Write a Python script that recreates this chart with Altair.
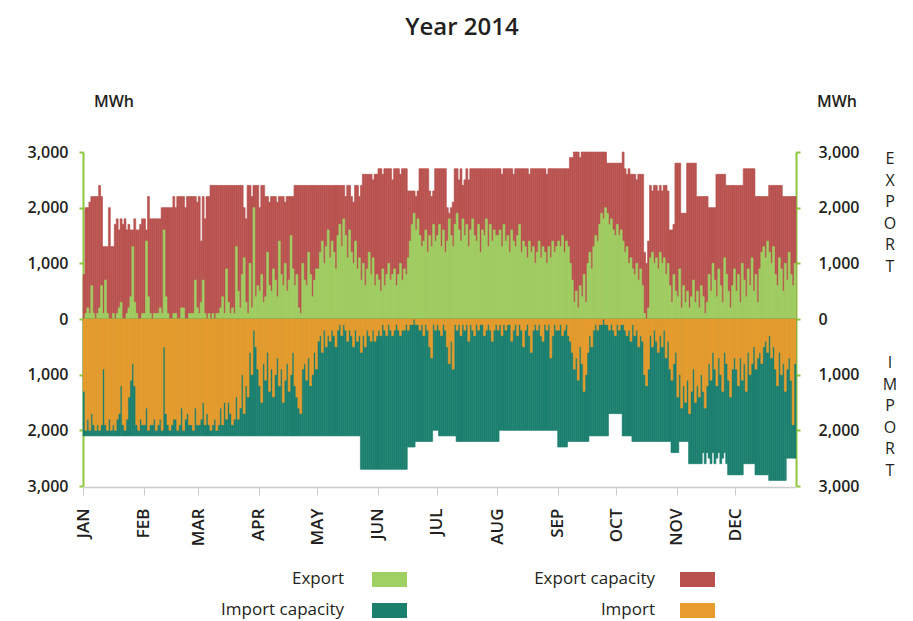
import altair as alt
import pandas as pd

# ---------------- data (values in hundreds of MWh, one per day of 2014) ----------------
months = ["JAN", "FEB", "MAR", "APR", "MAY", "JUN", "JUL", "AUG", "SEP", "OCT", "NOV", "DEC"]
month_days = [31, 28, 31, 30, 31, 30, 31, 31, 30, 31, 30, 31]

export_capacity = [
    8, 20, 20, 21, 22, 22, 22, 22, 24, 22, 13, 13, 13, 20, 13, 13, 17, 18, 16, 18, 17, 18, 16, 17, 16, 16, 18, 16, 16, 17, 18,
    18, 16, 22, 18, 18, 18, 18, 18, 18, 20, 20, 20, 20, 20, 20, 22, 20, 22, 22, 22, 22, 20, 22, 22, 22, 22, 22, 21,
    22, 14, 22, 18, 22, 22, 24, 24, 24, 24, 24, 24, 24, 24, 24, 24, 24, 24, 24, 24, 24, 24, 24, 20, 18, 24, 24, 22, 24, 24, 24,
    20, 24, 24, 22, 22, 21, 22, 22, 22, 21, 22, 22, 22, 21, 22, 22, 22, 22, 24, 24, 24, 24, 24, 24, 24, 24, 24, 24, 24, 24,
    24, 24, 24, 24, 24, 24, 24, 24, 24, 24, 24, 24, 24, 24, 22, 24, 24, 22, 21, 24, 24, 22, 24, 26, 26, 26, 26, 26, 25, 26, 26,
    27, 27, 26, 27, 27, 27, 27, 25, 27, 27, 27, 26, 27, 27, 27, 23, 23, 23, 23, 22, 23, 27, 27, 27, 27, 27, 23, 22, 23, 27,
    27, 27, 27, 27, 27, 20, 19, 20, 21, 27, 27, 25, 27, 24, 25, 27, 25, 27, 27, 27, 27, 27, 27, 27, 27, 27, 27, 27, 27, 27, 27,
    27, 27, 26, 27, 27, 27, 27, 27, 26, 27, 27, 27, 27, 27, 27, 27, 26, 27, 27, 27, 27, 27, 27, 27, 27, 26, 27, 27, 27, 27, 27,
    27, 27, 27, 27, 27, 27, 29, 29, 30, 30, 30, 29, 30, 30, 30, 30, 30, 30, 30, 30, 30, 30, 30, 30, 30, 28, 28, 28, 28, 28,
    28, 28, 28, 30, 27, 26, 27, 26, 26, 26, 25, 26, 26, 26, 12, 10, 14, 24, 23, 24, 24, 23, 24, 23, 24, 24, 23, 16, 16, 17, 28,
    28, 28, 19, 19, 19, 28, 28, 28, 28, 28, 22, 22, 22, 22, 22, 22, 20, 20, 20, 20, 26, 26, 26, 26, 26, 24, 24, 24, 24, 24,
    24, 24, 24, 24, 27, 27, 27, 27, 27, 27, 22, 22, 22, 22, 22, 22, 22, 24, 24, 24, 24, 24, 24, 24, 22, 22, 22, 22, 22, 22, 22,
]

export = [
    0, 1, 2, 1, 6, 1, 0, 1, 2, 6, 1, 7, 1, 0, 0, 1, 0, 1, 2, 3, 0, 0, 1, 2, 4, 13, 3, 1, 0, 0, 1,
    1, 14, 4, 1, 0, 1, 1, 1, 2, 1, 16, 4, 1, 0, 0, 1, 1, 0, 0, 2, 2, 0, 0, 1, 1, 1, 7, 2,
    1, 3, 7, 1, 0, 1, 0, 1, 0, 1, 1, 2, 4, 1, 9, 3, 1, 2, 1, 13, 5, 2, 8, 11, 3, 1, 10, 2, 20, 4, 6,
    5, 8, 3, 4, 12, 6, 5, 9, 7, 4, 14, 8, 6, 10, 5, 7, 15, 9, 6, 8, 2, 1, 10, 7, 6, 12, 8, 4, 7, 9,
    9, 12, 14, 10, 13, 16, 11, 14, 12, 9, 15, 17, 13, 18, 15, 11, 16, 12, 10, 14, 9, 11, 7, 10, 6, 9, 12, 8, 11, 6, 8,
    7, 5, 9, 6, 8, 10, 7, 8, 9, 6, 8, 10, 7, 9, 8, 11, 14, 17, 19, 16, 18, 15, 13, 14, 16, 12, 15, 13, 17, 14,
    15, 17, 13, 16, 12, 14, 18, 15, 13, 17, 19, 16, 14, 18, 15, 17, 13, 16, 18, 15, 14, 17, 12, 16, 15, 18, 13, 17, 14, 16, 15,
    15, 16, 13, 17, 14, 15, 12, 16, 14, 13, 15, 17, 12, 14, 13, 11, 14, 12, 13, 10, 12, 14, 11, 13, 12, 10, 13, 11, 14, 12, 13,
    14, 13, 15, 12, 14, 13, 10, 7, 3, 5, 2, 6, 4, 8, 3, 10, 12, 9, 13, 15, 14, 17, 19, 18, 20, 19, 17, 18, 16, 15,
    17, 15, 16, 14, 12, 13, 10, 11, 9, 8, 10, 7, 9, 6, 1, 0, 2, 11, 12, 10, 11, 9, 12, 10, 11, 8, 10, 6, 3, 8, 5,
    4, 9, 2, 6, 3, 5, 2, 4, 7, 3, 5, 2, 6, 4, 1, 3, 8, 5, 10, 7, 4, 9, 6, 3, 11, 8, 5, 2, 6, 9,
    5, 8, 3, 10, 7, 4, 9, 6, 11, 5, 8, 3, 9, 12, 13, 11, 14, 12, 10, 13, 8, 6, 11, 9, 5, 10, 7, 12, 8, 6, 10,
]

import_capacity = [
    21, 21, 21, 21, 21, 21, 21, 21, 21, 21, 21, 21, 21, 21, 21, 21, 21, 21, 21, 21, 21, 21, 21, 21, 21, 21, 21, 21, 21, 21, 21,
    21, 21, 21, 21, 21, 21, 21, 21, 21, 21, 21, 21, 21, 21, 21, 21, 21, 21, 21, 21, 21, 21, 21, 21, 21, 21, 21, 21,
    21, 21, 21, 21, 21, 21, 21, 21, 21, 21, 21, 21, 21, 21, 21, 21, 21, 21, 21, 21, 21, 21, 21, 21, 21, 21, 21, 21, 21, 21, 21,
    21, 21, 21, 21, 21, 21, 21, 21, 21, 21, 21, 21, 21, 21, 21, 21, 21, 21, 21, 21, 21, 21, 21, 21, 21, 21, 21, 21, 21, 21,
    21, 21, 21, 21, 21, 21, 21, 21, 21, 21, 21, 21, 21, 21, 21, 21, 21, 21, 21, 21, 21, 21, 27, 27, 27, 27, 27, 27, 27, 27, 27,
    27, 27, 27, 27, 27, 27, 27, 27, 27, 27, 27, 27, 27, 27, 27, 23, 23, 23, 23, 22, 22, 22, 22, 22, 22, 22, 22, 22, 20, 20,
    20, 21, 21, 21, 21, 21, 21, 21, 21, 21, 22, 22, 22, 22, 22, 22, 22, 22, 22, 22, 22, 22, 22, 22, 22, 22, 22, 22, 22, 22, 22,
    22, 20, 20, 20, 20, 20, 20, 20, 20, 20, 20, 20, 20, 20, 20, 20, 20, 20, 20, 20, 20, 20, 20, 20, 20, 20, 20, 20, 20, 20, 20,
    23, 23, 23, 23, 23, 22, 22, 22, 22, 22, 22, 22, 22, 22, 22, 22, 21, 21, 21, 21, 21, 21, 21, 21, 21, 21, 17, 17, 17, 17,
    17, 17, 17, 21, 21, 21, 21, 21, 22, 22, 22, 22, 22, 22, 22, 22, 22, 22, 22, 22, 22, 22, 22, 22, 22, 22, 22, 22, 24, 24, 24,
    24, 22, 22, 22, 22, 22, 26, 26, 26, 26, 26, 26, 26, 24, 26, 24, 25, 26, 24, 26, 25, 24, 26, 25, 24, 26, 28, 28, 28, 28,
    28, 28, 28, 28, 26, 26, 26, 26, 26, 26, 28, 28, 28, 28, 28, 28, 28, 29, 29, 29, 29, 29, 29, 29, 29, 29, 25, 25, 25, 25, 25,
]

imports = [
    13, 20, 18, 20, 17, 19, 20, 19, 20, 19, 9, 19, 20, 18, 20, 19, 20, 18, 17, 12, 19, 20, 18, 14, 11, 8, 12, 19, 20, 18, 19,
    19, 16, 20, 19, 19, 18, 20, 19, 18, 20, 5, 17, 19, 20, 19, 18, 18, 20, 19, 16, 20, 18, 17, 19, 19, 20, 16, 19,
    19, 18, 15, 19, 17, 19, 20, 19, 18, 20, 19, 16, 19, 15, 18, 15, 17, 19, 18, 14, 18, 16, 10, 17, 12, 14, 6, 10, 2, 5, 9,
    12, 15, 8, 11, 6, 13, 9, 14, 10, 7, 12, 9, 15, 11, 8, 13, 10, 6, 12, 14, 16, 17, 9, 8, 11, 7, 12, 10, 6, 9,
    4, 3, 6, 2, 5, 3, 4, 2, 3, 5, 2, 1, 3, 1, 2, 4, 2, 3, 5, 2, 4, 3, 6, 3, 5, 2, 3, 4, 2, 4, 3,
    2, 3, 1, 2, 3, 1, 2, 3, 2, 1, 2, 3, 2, 2, 1, 2, 1, 1, 0, 1, 1, 2, 1, 3, 1, 2, 5, 7, 1, 2,
    1, 2, 3, 1, 2, 5, 8, 4, 9, 1, 2, 1, 3, 1, 2, 1, 4, 1, 2, 3, 1, 2, 1, 1, 3, 2, 1, 2, 4, 2, 1,
    2, 1, 3, 1, 2, 1, 1, 4, 2, 1, 3, 1, 2, 5, 2, 1, 3, 6, 2, 1, 2, 1, 3, 4, 1, 2, 1, 7, 3, 1, 2,
    2, 1, 3, 2, 1, 3, 4, 6, 9, 7, 11, 5, 8, 13, 10, 6, 3, 5, 2, 1, 2, 1, 1, 0, 1, 1, 2, 1, 2, 3,
    1, 2, 1, 1, 2, 3, 2, 4, 1, 3, 2, 5, 3, 4, 10, 12, 9, 3, 5, 2, 4, 6, 3, 5, 2, 7, 4, 9, 11, 8, 6,
    14, 10, 16, 12, 15, 11, 17, 13, 9, 15, 12, 14, 10, 13, 16, 12, 8, 11, 6, 9, 12, 7, 10, 13, 6, 8, 11, 14, 9, 7,
    9, 12, 7, 11, 8, 13, 6, 10, 8, 5, 9, 7, 6, 8, 5, 4, 6, 3, 7, 5, 9, 12, 6, 10, 8, 13, 9, 7, 11, 19, 8,
]

y_ticks = [-3000, -2000, -1000, 0, 1000, 2000, 3000]

# ---------------- table ----------------
n_days = sum(month_days)
for s in (export_capacity, export, import_capacity, imports):
    assert len(s) == n_days, len(s)

month_starts = []
acc = 0
for d in month_days:
    month_starts.append(acc)
    acc += d

df = pd.DataFrame({
    "day": list(range(n_days)),
    "day_end": [d + 1 for d in range(n_days)],
    "zero": [0] * n_days,
    "exp_cap": [v * 100 for v in export_capacity],
    "exp": [v * 100 for v in export],
    "imp_cap": [-v * 100 for v in import_capacity],
    "imp": [-v * 100 for v in imports],
})

GREEN = "#a0cf63"
RED = "#b9524f"
TEAL = "#1b7f6e"
ORANGE = "#e79c2d"
AXIS_GREEN = "#8dc63f"
TXT = "#231f20"
FONT = "Open Sans"

W, H = 713, 334

label_expr = ""
for s, m in zip(month_starts, months):
    label_expr += f"datum.value == {s} ? '{m}' : "
label_expr += "''"

xs = alt.Scale(domain=[0, n_days], nice=False, zero=False)
ys = alt.Scale(domain=[-3000, 3000], nice=False)

x_axis = alt.Axis(
    values=month_starts, labelExpr=label_expr, title=None, grid=False,
    domainColor="#cccccc", domainWidth=1.5, tickColor="#cccccc", tickSize=8,
    labelAngle=-90, labelAlign="right", labelBaseline="middle", labelPadding=13,
    labelFont=FONT, labelFontSize=17, labelFontWeight=600, labelColor=TXT, offset=1,
)

def y_axis(orient, pad):
    return alt.Axis(
        orient=orient, values=y_ticks, labelExpr="format(abs(datum.value), ',')",
        title=None, grid=False, domainColor=AXIS_GREEN, domainWidth=2,
        tickColor=AXIS_GREEN, tickSize=4, tickWidth=2, labelPadding=pad,
        labelFont=FONT, labelFontSize=16, labelFontWeight=600, labelColor=TXT,
    )

base = alt.Chart(df)
X = alt.X("day:Q", scale=xs, axis=x_axis)

def bars(color):
    return base.mark_rect(color=color, stroke=color, strokeWidth=0.6)

red = bars(RED).encode(
    x=X, x2="day_end", y=alt.Y("exp_cap:Q", scale=ys, axis=y_axis("left", 11)), y2="zero")
green = bars(GREEN).encode(
    x=X, x2="day_end", y=alt.Y("exp:Q", scale=ys, axis=y_axis("right", 18)), y2="zero")
teal = bars(TEAL).encode(
    x=X, x2="day_end", y=alt.Y("imp_cap:Q", scale=ys, axis=None), y2="zero")
orange = bars(ORANGE).encode(
    x=X, x2="day_end", y=alt.Y("imp:Q", scale=ys, axis=None), y2="zero")

one = alt.Chart(pd.DataFrame({"k": [0]}))

def label(text, x, y, size=17, align="center", baseline="middle", weight="normal", line_height=None):
    kw = dict(text=text, fontSize=size, font=FONT, color=TXT, align=align,
              baseline=baseline, fontWeight=weight)
    if line_height is not None:
        kw["lineHeight"] = line_height
    return one.mark_text(**kw).encode(x=alt.value(x), y=alt.value(y))

def swatch(color, x0, x1, y0, y1):
    return one.mark_rect(color=color).encode(
        x=alt.value(x0), x2=alt.value(x1), y=alt.value(y0), y2=alt.value(y1))

decor = [
    label("Year 2014", 379, -124, size=24, weight=600),
    label("MWh", 31, -50, size=16, weight=600),
    label("MWh", 754, -50, size=16, weight=600),
    label(["E", "X", "P", "O", "R", "T"], 807, 12, size=16, baseline="alphabetic", line_height=21.6),
    label(["I", "M", "P", "O", "R", "T"], 807, 216, size=16, baseline="alphabetic", line_height=21.6),
    label("Export", 261, 427, align="right"),
    swatch(GREEN, 289, 324, 420, 435),
    label("Export capacity", 572, 427, align="right"),
    swatch(RED, 597, 632, 420, 435),
    label("Import capacity", 261, 458, align="right"),
    swatch(TEAL, 289, 324, 451, 466),
    label("Import", 572, 458, align="right"),
    swatch(ORANGE, 597, 632, 451, 466),
]

chart = alt.layer(red, green, teal, orange, *decor).resolve_axis(y="independent").properties(
    width=W, height=H,
    autosize=alt.AutoSizeParams(type="none"),
    padding={"left": 75, "top": 144, "right": 100, "bottom": 135},
).configure_view(stroke=None)

chart.save("out.html", embed_options={"renderer": "svg", "actions": False})
